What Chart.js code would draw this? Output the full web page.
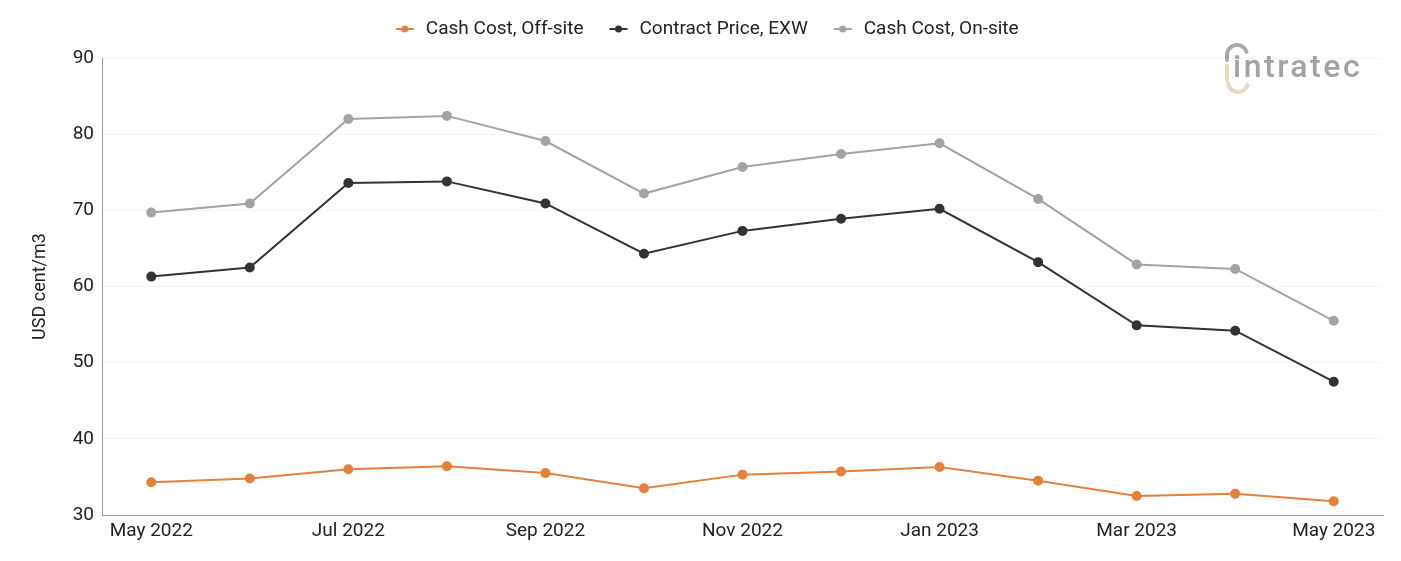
<!DOCTYPE html>
<html>
<head>
<meta charset="utf-8">
<script src="https://cdn.jsdelivr.net/npm/chart.js@4/dist/chart.umd.min.js"></script>
<style>
html,body{margin:0;padding:0;background:#fff;}
#wrap{width:1401px;height:561px;position:relative;}
</style>
</head>
<body>
<div id="wrap"><canvas id="c" width="1401" height="561"></canvas></div>
<script>
const categories = ["May 2022","Jun 2022","Jul 2022","Aug 2022","Sep 2022","Oct 2022","Nov 2022","Dec 2022","Jan 2023","Feb 2023","Mar 2023","Apr 2023","May 2023"];
const cashCostOffSite = [34.3,34.8,36.0,36.4,35.5,33.5,35.3,35.7,36.3,34.5,32.5,32.8,31.8];
const contractPriceEXW = [61.3,62.5,73.6,73.8,70.9,64.3,67.3,68.9,70.2,63.2,54.9,54.2,47.5];
const cashCostOnSite = [69.7,70.9,82.0,82.4,79.1,72.2,75.7,77.4,78.8,71.5,62.9,62.3,55.5];
const yTicks = [30,40,50,60,70,80,90];

const FONT = "Roboto, 'Liberation Sans', sans-serif";
const colors = {orange:"#e5803a", dark:"#333333", gray:"#a3a3a3"};

function markerImg(color){
  const c=document.createElement('canvas'); c.width=27; c.height=10;
  const x=c.getContext('2d');
  x.strokeStyle=color; x.lineWidth=2;
  x.beginPath(); x.moveTo(6.5,5); x.lineTo(24.5,5); x.stroke();
  x.fillStyle=color; x.beginPath(); x.arc(15.5,5,3.5,0,Math.PI*2); x.fill();
  return c;
}

const layoutPlugin = {
  id:'fixLegend',
  beforeLayout(chart){
    const lg=chart.legend;
    if(lg && !lg._wrapped){
      const f=lg.fit;
      lg.fit=function(){f.call(this); this.height=58;};
      lg._wrapped=true;
    }
  }
};

const logoPlugin = {
  id:'logo',
  afterDraw(chart){
    const ctx=chart.ctx; ctx.save();
    ctx.lineWidth=4; ctx.lineCap='round';
    ctx.strokeStyle='#a8a8a8';
    ctx.beginPath(); ctx.arc(1237,55,10,Math.PI*1.0,Math.PI*1.9); ctx.stroke();
    ctx.beginPath(); ctx.moveTo(1227,55); ctx.lineTo(1227,60); ctx.stroke();
    ctx.strokeStyle='#eed5bb';
    ctx.beginPath(); ctx.moveTo(1227,66); ctx.lineTo(1227,80); ctx.stroke();
    ctx.beginPath(); ctx.arc(1238,82,10,Math.PI*0.1,Math.PI*0.95); ctx.stroke();
    ctx.fillStyle='#a3a3a3';
    ctx.font="500 32px "+FONT; ctx.textBaseline='alphabetic'; ctx.textAlign='left';
    try{ctx.letterSpacing='2.5px';}catch(e){}
    ctx.fillText("intratec",1233,77);
    ctx.restore();
  }
};

new Chart(document.getElementById('c'),{
  type:'line',
  data:{
    labels:categories,
    datasets:[
      {label:"Cash Cost, Off-site",data:cashCostOffSite,borderColor:colors.orange,backgroundColor:colors.orange},
      {label:"Contract Price, EXW",data:contractPriceEXW,borderColor:colors.dark,backgroundColor:colors.dark},
      {label:"Cash Cost, On-site",data:cashCostOnSite,borderColor:colors.gray,backgroundColor:colors.gray}
    ].map(d=>Object.assign(d,{borderWidth:2,pointRadius:4,pointHoverRadius:4,tension:0,fill:false,pointStyle:'circle'}))
  },
  options:{
    responsive:false,animation:false,
    layout:{padding:{left:25,right:18,top:0,bottom:0}},
    plugins:{
      legend:{position:'top',
        labels:{usePointStyle:true,pointStyleWidth:27,color:'#222',font:{family:FONT,size:19},padding:19.5,boxHeight:10,
          generateLabels(chart){
            return chart.data.datasets.map((d,i)=>({text:d.label,fillStyle:d.borderColor,strokeStyle:d.borderColor,
              pointStyle:markerImg(d.borderColor),datasetIndex:i,hidden:false,lineWidth:0,fontColor:'#222'}));
          }}},
      tooltip:{enabled:false}
    },
    scales:{
      x:{offset:true,
        afterFit(s){s.height=46;},
        grid:{display:false,drawTicks:false},
        border:{display:true,color:'#9a9a9a',width:1},
        ticks:{autoSkip:false,maxRotation:0,padding:5,color:'#222',font:{family:FONT,size:19},
          callback:function(v,i){return i%2===0?categories[i]:'';}}
      },
      y:{min:30,max:90,
        afterFit(s){s.width=77;},
        afterBuildTicks(s){s.ticks=yTicks.map(v=>({value:v}));},
        grid:{color:'#f4f4f4',drawTicks:false},
        border:{display:true,color:'#9a9a9a',width:1},
        ticks:{padding:8,color:'#222',font:{family:FONT,size:19}},
        title:{display:true,text:"USD cent/m3",color:'#222',font:{family:FONT,size:18},padding:{top:5,bottom:4}}
      }
    }
  },
  plugins:[layoutPlugin,logoPlugin]
});
</script>
</body>
</html>
